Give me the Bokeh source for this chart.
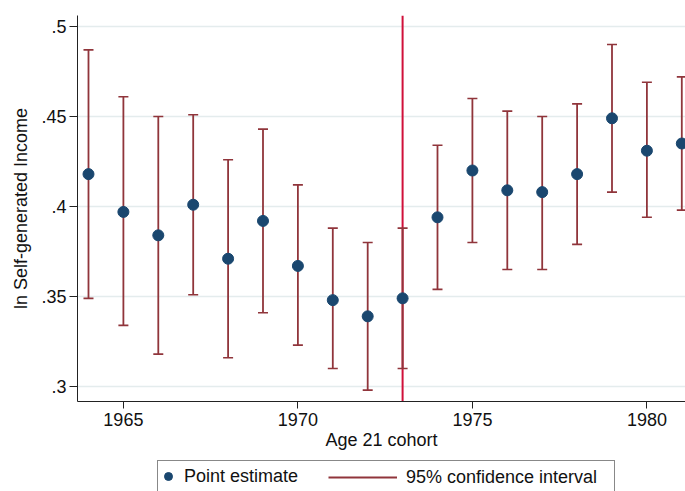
from bokeh.plotting import figure
from bokeh.layouts import column
from bokeh.models import (ColumnDataSource, Range1d, FixedTicker, CustomJSTickFormatter,
                          Span, Legend, LegendItem)
from bokeh.embed import file_html
from bokeh.resources import INLINE

# ---- data ----
cohort = [1964, 1965, 1966, 1967, 1968, 1969, 1970, 1971, 1972,
          1973, 1974, 1975, 1976, 1977, 1978, 1979, 1980, 1981]
estimate = [0.418, 0.397, 0.384, 0.401, 0.371, 0.392, 0.367, 0.348, 0.339,
            0.349, 0.394, 0.420, 0.409, 0.408, 0.418, 0.449, 0.431, 0.435]
ci_upper = [0.487, 0.461, 0.450, 0.451, 0.426, 0.443, 0.412, 0.388, 0.380,
            0.388, 0.434, 0.460, 0.453, 0.450, 0.457, 0.490, 0.469, 0.472]
ci_lower = [0.349, 0.334, 0.318, 0.351, 0.316, 0.341, 0.323, 0.310, 0.298,
            0.310, 0.354, 0.380, 0.365, 0.365, 0.379, 0.408, 0.394, 0.398]
cutoff_year = 1973
x_ticks = [1965, 1970, 1975, 1980]
y_ticks = [0.3, 0.35, 0.4, 0.45, 0.5]

FONT = "Liberation Sans"
NAVY = "#1a476f"
MAROON = "#90353b"
RED = "#d0103a"
TXT = "#111111"

src = ColumnDataSource(dict(x=cohort, y=estimate, lo=ci_lower, hi=ci_upper))

p = figure(width=685, height=455, output_backend="svg", toolbar_location=None,
           x_range=Range1d(1963.685, 1981.106), y_range=Range1d(0.2917, 0.5061),
           min_border_left=77, min_border_right=0, min_border_top=15, min_border_bottom=54)
p.outline_line_color = None
p.background_fill_color = "white"
p.border_fill_color = "white"

# vertical cutoff line (under the bars)
vline = Span(location=cutoff_year, dimension="height", line_color=RED, line_width=2, level="underlay")
p.add_layout(vline)

# error bars
p.segment(x0="x", y0="lo", x1="x", y1="hi", source=src, line_color=MAROON, line_width=1.8)
p.scatter(x="x", y="lo", source=src, marker="dash", size=10, line_color=MAROON, line_width=1.6)
p.scatter(x="x", y="hi", source=src, marker="dash", size=10, line_color=MAROON, line_width=1.6)
# points
p.scatter(x="x", y="y", source=src, marker="circle", size=11, fill_color=NAVY, line_color=NAVY)

# axes
for ax in (p.xaxis[0], p.yaxis[0]):
    ax.axis_line_color = "#222222"
    ax.axis_line_width = 1
    ax.major_tick_line_color = "#222222"
    ax.major_tick_in = 0
    ax.minor_tick_line_color = None
    ax.major_label_text_font = FONT
    ax.major_label_text_font_size = "18px"
    ax.major_label_text_color = TXT
    ax.axis_label_text_font = FONT
    ax.axis_label_text_font_size = "18px"
    ax.axis_label_text_font_style = "normal"
    ax.axis_label_text_color = TXT

p.xaxis.ticker = FixedTicker(ticks=x_ticks)
p.xaxis.major_tick_out = 7
p.xaxis.major_label_standoff = 4
p.xaxis.axis_label = "Age 21 cohort"
p.xaxis.axis_label_standoff = 1

p.yaxis.ticker = FixedTicker(ticks=y_ticks)
p.yaxis.formatter = CustomJSTickFormatter(
    code="return tick.toFixed(2).replace(/0$/, '').replace(/^0/, '');")
p.yaxis.major_label_orientation = "horizontal"
p.yaxis.major_tick_out = 8
p.yaxis.major_label_standoff = 3
p.yaxis.axis_label = "ln Self-generated Income"
p.yaxis.axis_label_standoff = 7

p.xgrid.grid_line_color = None
p.ygrid.grid_line_color = "#e4eced"
p.ygrid.grid_line_width = 1.5

# ---- legend strip below the chart ----
leg = figure(width=685, height=36, output_backend="svg", toolbar_location=None,
             x_axis_type=None, y_axis_type=None, x_range=Range1d(0, 1), y_range=Range1d(0, 1),
             min_border=0)
leg.outline_line_color = None
leg.grid.grid_line_color = None
# legend keys: same series, hidden in this strip (only their legend glyphs are shown)
pts_key = leg.scatter(x="x", y="y", source=src, marker="circle", size=9,
                      fill_color=NAVY, line_color=NAVY, visible=False)
bar_key = leg.segment(x0="x", y0="lo", x1="x", y1="hi", source=src,
                      line_color=MAROON, line_width=1.8, visible=False)

common = dict(orientation="horizontal", glyph_height=30, label_height=30, padding=0, margin=0,
              inactive_fill_alpha=0, label_text_font=FONT, label_text_font_size="18px",
              label_text_color=TXT)
legA = Legend(items=[LegendItem(label="Point estimate", renderers=[pts_key])],
              location=(80, -1), glyph_width=20, label_width=430, label_standoff=6,
              border_line_color=TXT, border_line_width=1,
              background_fill_color="white", background_fill_alpha=1, **common)
legB = Legend(items=[LegendItem(label="95% confidence interval", renderers=[bar_key])],
              location=(251, -1), glyph_width=69, label_standoff=9,
              border_line_color=None, background_fill_alpha=0, **common)
leg.add_layout(legA, "center")
leg.add_layout(legB, "center")

layout = column(p, leg, spacing=0)
open("out.html", "w").write(file_html(layout, INLINE))
